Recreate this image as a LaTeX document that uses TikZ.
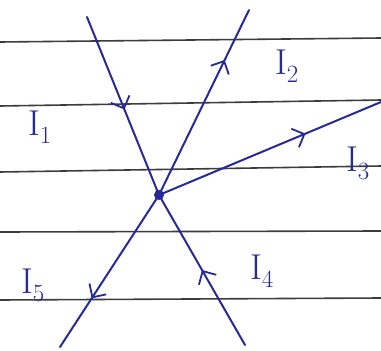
\documentclass[tikz,border=0pt]{standalone}
\usetikzlibrary{arrows.meta,decorations.markings}
\definecolor{ink}{RGB}{38,42,150}
\definecolor{rule}{RGB}{60,60,60}
\tikzset{
  wire/.style={draw=ink,line width=2pt,line cap=round},
  ruled/.style={draw=rule,line width=1.6pt},
  midarrow/.style={postaction={decorate},decoration={markings,
     mark=at position #1 with {\arrow[ink,line width=1.8pt]{Straight Barb[length=10pt,width=20pt]}}}},
  lab/.style={text=ink,font=\fontsize{36}{36}\selectfont,inner sep=0pt}
}
\begin{document}
\begin{tikzpicture}[x=1pt,y=-1pt]
\useasboundingbox (0,0) rectangle (381,351);
% ruled paper
\draw[ruled] (0,42) -- (381,38);
\draw[ruled] (0,106) -- (381,100);
\draw[ruled] (0,172) -- (381,166);
\draw[ruled] (0,232) -- (381,231);
\draw[ruled] (0,300) -- (381,298);
% points
\coordinate (J) at (159,195);
\coordinate (A) at (87,17);
\coordinate (B) at (249,10);
\coordinate (C) at (381,102);
\coordinate (D) at (245,345);
\coordinate (E) at (60,347);
% wires
\draw[wire,midarrow=0.52] (A) -- (J);
\draw[wire,midarrow=0.73] (J) -- (B);
\draw[wire,midarrow=0.66] (J) -- (C);
\draw[wire,midarrow=0.5] (D) -- (J);
\draw[wire,midarrow=0.68] (J) -- (E);
\fill[ink] (J) circle (5);
% labels
\node[lab] (l1) at (40,127) {I$_{1}$};
\node[lab] (l2) at (287,66) {I$_{2}$};
\node[lab] (l3) at (358,163) {I$_{3}$};
\node[lab] (l4) at (262,271) {I$_{4}$};
\node[lab] (l5) at (33,285) {I$_{5}$};
\end{tikzpicture}
\end{document}
